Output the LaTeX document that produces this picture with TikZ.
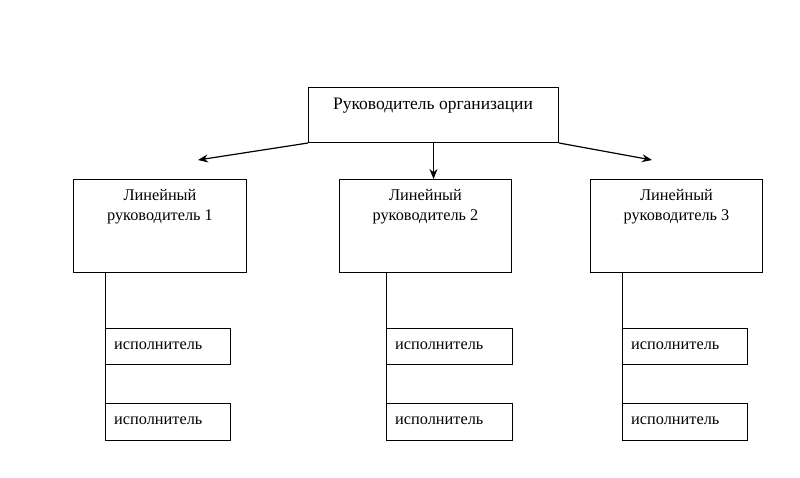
\documentclass[tikz,border=0pt]{standalone}
\usepackage{fontspec}
\setmainfont{Liberation Serif}
\usetikzlibrary{arrows.meta}
\begin{document}
\begin{tikzpicture}[x=1pt,y=-1pt,
  box/.style={draw, line width=1pt, inner sep=0pt, anchor=north west},
  txt/.style={font=\fontsize{16.3}{19.5}\selectfont, inner sep=0pt, align=center},
  ttxt/.style={font=\fontsize{17.5}{20}\selectfont, inner sep=0pt},
  etxt/.style={font=\fontsize{16.3}{19.5}\selectfont, inner sep=0pt, anchor=base west},
  arr/.style={-{Stealth[length=10pt,width=8pt]}, line width=1.2pt},
  ln/.style={line width=1pt}]
\useasboundingbox (0,0) rectangle (800,477);
% top
\node[box, minimum width=250pt, minimum height=55pt] (top) at (308,87) {};
\node[ttxt, anchor=base] (toptxt) at (433,109) {Руководитель организации};
% line managers
\node[box, minimum width=173pt, minimum height=93pt] (l1) at (73,179) {};
\node[box, minimum width=172pt, minimum height=93pt] (l2) at (339,179) {};
\node[box, minimum width=172pt, minimum height=93pt] (l3) at (590,179) {};
\node[txt, anchor=base] (t1) at (l1.north |- 0,220) {Линейный\\руководитель 1};
\node[txt, anchor=base] (t2) at (l2.north |- 0,220) {Линейный\\руководитель 2};
\node[txt, anchor=base] (t3) at (l3.north |- 0,220) {Линейный\\руководитель 3};
% arrows
\coordinate (a1) at (198,160);
\coordinate (a3) at (652,160);
\draw[arr] (top.south west) -- (a1);
\draw[arr] (top.south) -- (l2.north -| top.south);
\draw[arr] (top.south east) -- (a3);
% executors
\foreach \c/\x/\w in {1/105/125, 2/386/126, 3/622/125}{
  \node[box, minimum width=\w pt, minimum height=36pt] (e\c a) at (\x,328) {};
  \node[box, minimum width=\w pt, minimum height=37pt] (e\c b) at (\x,403) {};
  \node[etxt] (e\c at) at ([xshift=9pt]e\c a.north west |- 0,349) {исполнитель};
  \node[etxt] (e\c bt) at ([xshift=9pt]e\c b.north west |- 0,424) {исполнитель};
  \draw[ln] (l\c.south -| e\c a.west) -- (e\c a.north west);
  \draw[ln] (e\c a.south west) -- (e\c b.north west);
}
\end{tikzpicture}
\end{document}
